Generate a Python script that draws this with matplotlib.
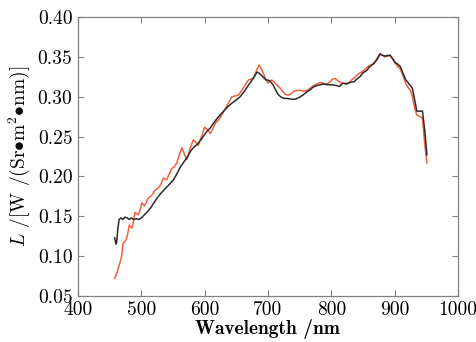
import matplotlib
matplotlib.use("Agg")
import matplotlib.pyplot as plt

red_wl = [458, 461, 466, 469, 471, 474, 477, 479, 481, 485, 488, 490, 495, 498, 501, 505, 511, 516, 522, 526,
          530, 535, 540, 548, 552, 556, 561, 564, 568, 572, 577, 582, 586, 590, 595, 600, 605, 609, 613, 617,
          623, 629, 636, 643, 648, 653, 657, 661, 665, 669, 673, 677, 682, 686, 690, 695, 700, 703, 706, 710,
          715, 719, 724, 728, 732, 737, 741, 746, 751, 756, 762, 767, 772, 777, 782, 787, 792, 797, 802, 806,
          811, 816, 822, 827, 832, 838, 843, 848, 853, 858, 863, 868, 873, 877, 881, 885, 889, 893, 897, 901,
          905, 909, 914, 918, 921, 925, 928, 932, 935, 940, 944, 947, 951]
red_L = [0.072, 0.078, 0.091, 0.100, 0.116, 0.118, 0.123, 0.130, 0.139, 0.135, 0.145, 0.155, 0.152, 0.158, 0.167, 0.163, 0.173, 0.176, 0.183, 0.185,
         0.189, 0.198, 0.196, 0.210, 0.212, 0.217, 0.229, 0.236, 0.228, 0.221, 0.235, 0.246, 0.243, 0.239, 0.250, 0.262, 0.258, 0.254, 0.260, 0.267,
         0.272, 0.280, 0.290, 0.300, 0.301, 0.302, 0.306, 0.311, 0.316, 0.321, 0.322, 0.323, 0.333, 0.340, 0.334, 0.325, 0.317, 0.320, 0.321, 0.318,
         0.314, 0.311, 0.306, 0.303, 0.302, 0.304, 0.307, 0.308, 0.308, 0.307, 0.308, 0.311, 0.314, 0.316, 0.318, 0.317, 0.316, 0.318, 0.322, 0.323,
         0.320, 0.317, 0.317, 0.317, 0.321, 0.325, 0.329, 0.331, 0.334, 0.338, 0.340, 0.342, 0.347, 0.353, 0.352, 0.350, 0.351, 0.352, 0.347, 0.342,
         0.338, 0.335, 0.325, 0.316, 0.312, 0.308, 0.300, 0.285, 0.277, 0.275, 0.273, 0.245, 0.217]

black_wl = [458, 460, 461, 463, 465, 468, 471, 474, 478, 481, 484, 488, 492, 496, 500, 505, 510, 515, 520, 526,
            531, 537, 543, 550, 556, 561, 567, 573, 578, 582, 588, 595, 602, 609, 615, 622, 629, 636, 643, 650,
            656, 662, 668, 674, 679, 683, 687, 692, 697, 700, 703, 708, 712, 716, 720, 725, 730, 736, 743, 749,
            755, 761, 767, 771, 777, 782, 787, 795, 802, 809, 813, 818, 824, 830, 836, 840, 845, 850, 856, 861,
            866, 871, 877, 881, 885, 889, 893, 897, 901, 905, 909, 913, 917, 920, 924, 928, 932, 935, 940, 944,
            948, 951]
black_L = [0.123, 0.115, 0.117, 0.135, 0.146, 0.148, 0.146, 0.149, 0.148, 0.146, 0.148, 0.146, 0.147, 0.146, 0.148, 0.152, 0.156, 0.161, 0.167, 0.174,
           0.179, 0.184, 0.189, 0.195, 0.203, 0.211, 0.218, 0.225, 0.232, 0.236, 0.240, 0.247, 0.255, 0.261, 0.268, 0.275, 0.281, 0.287, 0.292, 0.296,
           0.300, 0.306, 0.313, 0.320, 0.326, 0.331, 0.329, 0.325, 0.321, 0.321, 0.320, 0.315, 0.309, 0.303, 0.300, 0.298, 0.298, 0.297, 0.297, 0.299,
           0.302, 0.306, 0.309, 0.312, 0.314, 0.315, 0.316, 0.315, 0.315, 0.314, 0.313, 0.317, 0.316, 0.318, 0.319, 0.322, 0.325, 0.330, 0.333, 0.338,
           0.341, 0.346, 0.354, 0.352, 0.351, 0.352, 0.352, 0.348, 0.343, 0.341, 0.338, 0.330, 0.322, 0.319, 0.315, 0.311, 0.295, 0.282, 0.282, 0.282,
           0.255, 0.227]

xticks = [400, 500, 600, 700, 800, 900, 1000]
yticks = [0.05, 0.10, 0.15, 0.20, 0.25, 0.30, 0.35, 0.40]

plt.rcParams['mathtext.fontset'] = 'cm'
plt.rcParams['font.family'] = ['cmr10', 'DejaVu Serif']
plt.rcParams['axes.formatter.use_mathtext'] = True

fig = plt.figure(figsize=(4.77, 3.42), dpi=100)
ax = fig.add_axes([0.1635, 0.1345, 0.7965, 0.8155])

ax.plot(red_wl, red_L, color='#f2603f', lw=1.1)
ax.plot(black_wl, black_L, color='#2b2b2b', lw=1.1)

ax.set_xlim(400, 1000)
ax.set_ylim(0.05, 0.40)
ax.set_xticks(xticks)
ax.set_xticklabels([str(t) for t in xticks])
ax.set_yticks(yticks)
ax.set_yticklabels([f"{t:.2f}" for t in yticks])
ax.tick_params(direction='in', length=4, width=0.8, color='#808080', labelsize=14,
               top=True, right=True, pad=4)
for s in ax.spines.values():
    s.set_color('#808080')
    s.set_linewidth(0.9)

ax.set_xlabel('Wavelength /nm', fontsize=14, family=['cmb10', 'DejaVu Serif'], labelpad=0)
ax.set_ylabel(r'$L$ /[W /(Sr$\bullet$m$^2$$\bullet$nm)]', fontsize=14, labelpad=4)

fig.savefig('out.png', dpi=100)
